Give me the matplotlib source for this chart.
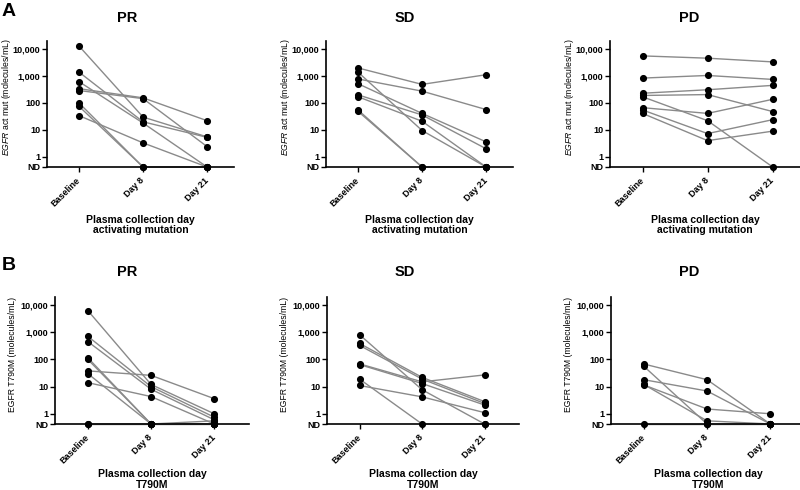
import matplotlib
matplotlib.use("Agg")
import matplotlib.pyplot as plt
import numpy as np

plt.rcParams['font.family'] = ['Liberation Sans', 'DejaVu Sans']
plt.rcParams['mathtext.fontset'] = 'custom'
plt.rcParams['mathtext.rm'] = 'Liberation Sans'
plt.rcParams['mathtext.it'] = 'Liberation Sans:italic'

ND = 0.42  # not detected, plotted on the x axis

days = ['Baseline', 'Day 8', 'Day 21']
ytick_vals = [ND, 1, 10, 100, 1000, 10000]
ytick_labels = ['ND', '1', '10', '100', '1,000', '10,000']

# A: activating mutation (molecules/mL) per patient: baseline, day 8, day 21
act_pr = [
    [13000, 30, 5.5],
    [1400, 20, 5.3],
    [620, 18, ND],
    [340, 155, 22],
    [290, 145, 2.4],
    [100, ND, ND],
    [75, ND, ND],
    [34, 3.3, ND],
]
act_sd = [
    [2000, 490, 1120],
    [1400, 9.5, ND],
    [780, 275, 57],
    [520, 41, 3.6],
    [200, 36, 2.0],
    [170, 21, ND],
    [55, ND, ND],
    [49, ND, ND],
]
act_pd = [
    [5600, 4600, 3350],
    [840, 1050, 750],
    [230, 310, 450],
    [190, 205, 48],
    [170, 22, ND],
    [67, 41, 137],
    [55, 7.3, 24],
    [41, 4.0, 9.0],
]

# B: T790M (molecules/mL)
t790_pr = [
    [6300, 12, 1.0],
    [710, 10, 0.75],
    [455, 8, 0.6],
    [115, ND, ND],
    [100, ND, ND],
    [38, 26, 3.6],
    [30, ND, ND],
    [14, 4.3, ND],
    [ND, ND, 0.55],
    [ND, ND, ND],
]
t790_sd = [
    [820, 7.7, ND],
    [390, 22, 2.8],
    [330, 19, 2.4],
    [69, 15, 27],
    [65, 13, 2.1],
    [19, ND, ND],
    [11, 4.2, 1.1],
]
t790_pd = [
    [68, 18, ND],
    [56, ND, ND],
    [18, 6.9, ND],
    [11.5, 1.5, 1.0],
    [12, 0.55, ND],
    [ND, ND, ND],
]

W, H = 800, 490
fig = plt.figure(figsize=(W / 100, H / 100), dpi=100)


def px_axes(left, top, width, height):
    return fig.add_axes([left / W, 1 - (top + height) / H, width / W, height / H])


def draw_panel(ax, data, title, title_xy, ylabel, xlabel, xlim, ylab_x, xlab_y):
    x = np.arange(len(days))
    for row in data:
        ax.plot(x, row, color='#8a8a8a', lw=1.0, zorder=2, clip_on=False)
        ax.plot(x, row, 'o', color='black', ms=4.1, zorder=3, clip_on=False)
    ax.set_yscale('log')
    ax.set_ylim(ND, 20000)
    ax.set_xlim(*xlim)
    ax.set_yticks(ytick_vals)
    ax.set_yticklabels(ytick_labels, fontsize=6.5, fontweight='bold')
    ax.minorticks_off()
    ax.set_xticks(x)
    ax.set_xticklabels(days, fontsize=6.5, fontweight='bold', rotation=45,
                       ha='right', va='center', rotation_mode='anchor')
    ax.tick_params(axis='both', length=3.5, width=1, pad=1.5)
    ax.tick_params(axis='x', pad=5)
    for s in ['top', 'right']:
        ax.spines[s].set_visible(False)
    for s in ['left', 'bottom']:
        ax.spines[s].set_linewidth(1.2)
    ax.set_ylabel(ylabel, fontsize=6.2, va='center')
    ax.yaxis.set_label_coords(ylab_x, 0.55)
    ax.set_xlabel(xlabel, fontsize=7.5, fontweight='bold', va='center', linespacing=1.1)
    ax.xaxis.set_label_coords(0.5, xlab_y)
    fig.text(title_xy[0] / W, 1 - title_xy[1] / H, title, fontsize=10.5,
             fontweight='bold', ha='center', va='center')


lab_a = r'$\it{EGFR}$ act mut (molecules/mL)'
lab_b = 'EGFR T790M (molecules/mL)'
xl_a = 'Plasma collection day\nactivating mutation'
xl_b = 'Plasma collection day\nT790M'

top_boxes = [(47, 41, 187, 126), (326, 41, 187, 126), (610, 41, 190, 126)]
bot_boxes = [(55, 297, 194, 127), (327, 297, 192, 127), (611, 297, 194, 127)]
titles = ['PR', 'SD', 'PD']
title_x = [127, 405, 689]

for box, data, t, tx in zip(top_boxes, [act_pr, act_sd, act_pd], titles, title_x):
    ax = px_axes(*box)
    draw_panel(ax, data, t, (tx, 17.5), lab_a, xl_a, (-0.5, 2.42), -0.215, -0.46)

for box, data, t, tx in zip(bot_boxes, [t790_pr, t790_sd, t790_pd], titles, title_x):
    ax = px_axes(*box)
    draw_panel(ax, data, t, (tx, 272.5), lab_b, xl_b, (-0.52, 2.55), -0.22, -0.44)

fig.text(9 / W, 1 - 11 / H, 'A', fontsize=14, fontweight='bold', ha='center', va='center')
fig.text(9 / W, 1 - 265 / H, 'B', fontsize=14, fontweight='bold', ha='center', va='center')

fig.savefig('out.png', dpi=100)
